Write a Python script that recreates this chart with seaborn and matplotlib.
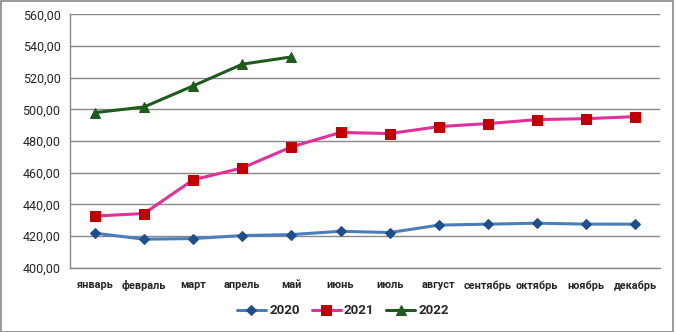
import matplotlib
matplotlib.use("Agg")
import matplotlib.pyplot as plt
import seaborn as sns
import pandas as pd
from matplotlib.patches import Rectangle

months = ["январь", "февраль", "март", "апрель", "май", "июнь", "июль",
          "август", "сентябрь", "октябрь", "ноябрь", "декабрь"]
v2020 = [421.8, 418.0, 418.4, 420.3, 420.9, 423.0, 422.2, 426.9, 427.5, 428.1, 427.5, 427.5]
v2021 = [432.6, 434.2, 455.5, 463.0, 476.3, 485.4, 484.7, 489.1, 491.0, 493.5, 494.1, 495.4]
v2022 = [497.9, 501.5, 514.8, 528.5, 533.1]
yticks = [400, 420, 440, 460, 480, 500, 520, 540, 560]

rows = []
for yr, vals in (("2020", v2020), ("2021", v2021), ("2022", v2022)):
    for i, v in enumerate(vals):
        rows.append({"idx": i, "month": months[i], "year": yr, "value": v})
df = pd.DataFrame(rows)

sns.set_theme(style="white")
plt.rcParams["font.family"] = ["Roboto", "DejaVu Sans"]

fig = plt.figure(figsize=(6.76, 3.32), dpi=100)
ax = fig.add_axes([70.3 / 676, 1 - 267.7 / 332, (660 - 70.3) / 676, (267.7 - 14.3) / 332])

styles = {
    "2020": dict(color="#4A7EBB", marker="D", mfc="#1F4E8C", mec="#1F4E8C", ms=5),
    "2021": dict(color="#E0309A", marker="s", mfc="#C00000", mec="#C00000", ms=6.5),
    "2022": dict(color="#1E5C1E", marker="^", mfc="#1E5C1E", mec="#1E5C1E", ms=7.5),
}
for yr in ["2020", "2021", "2022"]:
    s = styles[yr]
    sub = df[df["year"] == yr]
    sns.lineplot(data=sub, x="idx", y="value", ax=ax, color=s["color"], lw=2.2,
                 marker=s["marker"], markerfacecolor=s["mfc"], markeredgecolor=s["mec"],
                 markersize=s["ms"], label=yr, sort=False)

ax.set_xlim(-0.5, 11.5)
ax.set_ylim(400, 560)
ax.set_yticks(yticks)
ax.set_yticklabels([f"{t:.2f}".replace(".", ",") for t in yticks], fontsize=9)
ax.set_xticks(range(12))
ax.set_xticklabels(months, fontsize=7.8, fontweight="bold")
ax.tick_params(axis="x", length=0, pad=9)
ax.tick_params(axis="y", length=4, color="#888888", pad=3)
ax.set_xticks([i - 0.5 for i in range(13)], minor=True)
ax.tick_params(axis="x", which="minor", length=4, color="#888888", direction="out")
ax.yaxis.grid(True, color="#888888", lw=1)
ax.xaxis.grid(False)
ax.set_xlabel("")
ax.set_ylabel("")
for side in ["top", "right"]:
    ax.spines[side].set_visible(False)
for side in ["left", "bottom"]:
    ax.spines[side].set_color("#888888")
    ax.spines[side].set_linewidth(1)

leg = ax.legend(loc="center", ncol=3, frameon=False,
                prop={"size": 9.5, "weight": "bold"}, handlelength=2.2, columnspacing=0.9,
                handletextpad=0.25)
leg.set_bbox_to_anchor((343 / 676, 1 - 311 / 332), transform=fig.transFigure)

fig.patches.append(Rectangle((0.5 / 676, 0.5 / 332), 672.5 / 676, 330.5 / 332,
                             transform=fig.transFigure, fill=False, ec="#888888", lw=1.2))

fig.savefig("out.png", dpi=100)
